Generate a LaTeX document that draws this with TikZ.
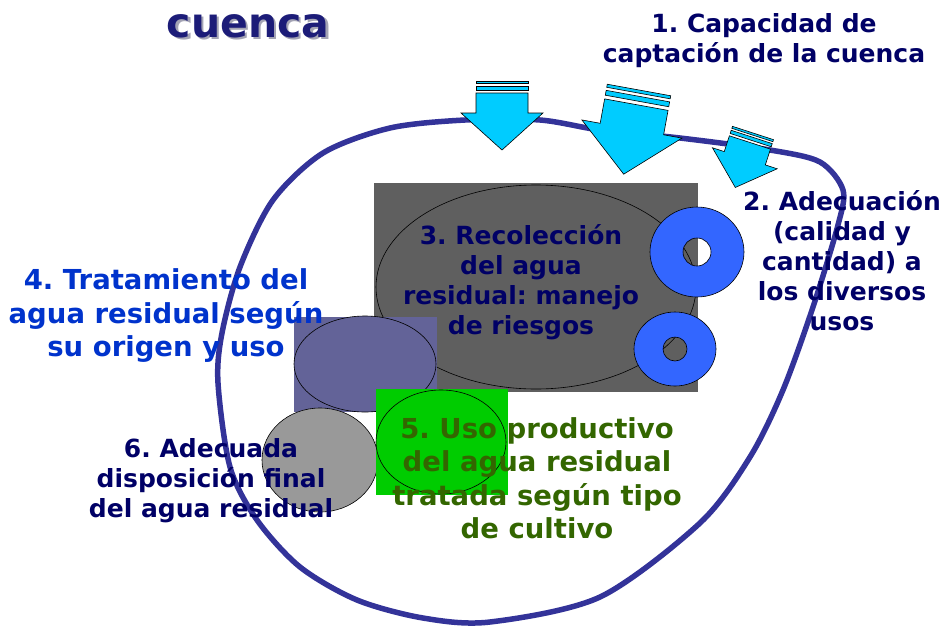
\documentclass[tikz,border=0pt]{standalone}
\usepackage{fontspec}
\setmainfont{DejaVu Sans}
\frenchspacing
\definecolor{navy}{HTML}{000066}
\definecolor{titlenavy}{HTML}{1C1C78}
\definecolor{shadowgray}{HTML}{A4A4B4}
\definecolor{loopblue}{HTML}{333399}
\definecolor{arrowcyan}{HTML}{00CCFF}
\definecolor{ringblue}{HTML}{3366FF}
\definecolor{slate}{HTML}{5F5F5F}
\definecolor{lavender}{HTML}{636398}
\definecolor{midgray}{HTML}{999999}
\definecolor{leaf}{HTML}{00CC00}
\definecolor{olive}{HTML}{336600}
\definecolor{royal}{HTML}{0033CC}
\begin{document}
\begin{tikzpicture}[x=1pt,y=-1pt,line width=.6pt,
  txt/.style={align=center,inner sep=0pt,text=navy,font=\bfseries\fontsize{25}{30}\selectfont},
  bigtxt/.style={txt,font=\bfseries\fontsize{27.5}{33.5}\selectfont},
  titletxt/.style={inner sep=0pt,font=\bfseries\fontsize{41}{48}\selectfont}]
  \useasboundingbox (0,0) rectangle (943,630);
  % basin boundary
  \draw[loopblue,line width=5.5pt] plot[smooth cycle] coordinates {
    (465,120) (540,120) (600,130) (680,138) (770,150) (820,162) (843,190)
    (838,225) (813,307) (783,390) (750,457) (700,523) (600,597) (490,622)
    (423,618) (357,600) (300,567) (257,520) (230,467) (218,383) (222,333)
    (240,267) (273,200) (323,153) (390,128)};
  % (3) collection block
  \fill[slate] (374,183) rectangle (698,392);
  \draw[fill=slate] (536,287) ellipse (160pt and 102pt);
  % (4) treatment block
  \fill[lavender] (294,317) rectangle (437,412);
  \draw[fill=lavender] (365,364) ellipse (71pt and 48pt);
  % (6) disposal
  \draw[fill=midgray] (320,460) ellipse (58pt and 52pt);
  % (5) reuse block
  \fill[leaf] (376,389) rectangle (508,495);
  \draw[fill=leaf] (441,442) ellipse (65pt and 52pt);
  % (2) rings
  \foreach \cx/\cy/\rx/\ry/\rh in {697/252/47/45/14, 675/349/41/37/12} {
    \draw[fill=ringblue,even odd rule] (\cx,\cy) ellipse (\rx pt and \ry pt)
      (\cx,\cy) circle (\rh pt);
  }
  % (1) inflow arrows
  \foreach \ax/\ay/\ang/\sc in {502/81/0/1, 639/90/-10.3/1.24, 753/133/-18/.83} {
    \begin{scope}[shift={(\ax,\ay)},rotate=\ang,scale=\sc]
      \draw[fill=arrowcyan] (-26,0) rectangle (26,2.5);
      \draw[fill=arrowcyan] (-26,5) rectangle (26,9);
      \draw[fill=arrowcyan] (-26,12) -- (-26,32) -- (-41,32) -- (0,69)
        -- (41,32) -- (26,32) -- (26,12) -- cycle;
    \end{scope}
  }
  % labels
  \node[titletxt,text=shadowgray] (titleshadow) at (250.5,28) {cuenca};
  \node[titletxt,text=titlenavy] (title) at (248,26) {cuenca};
  \node[txt] (capt) at (764,41) {1. Capacidad de\\captación de la cuenca};
  \node[txt] (adec) at (842,261) {2. Adecuación\\(calidad y\\cantidad) a\\los diversos\\usos};
  \node[txt] (recol) at (521,282.5) {3. Recolección\\del agua\\residual: manejo\\de riesgos};
  \node[bigtxt,text=royal] (trat) at (166,316) {4. Tratamiento del\\agua residual según\\su origen y uso};
  \node[bigtxt,text=olive] (uso) at (537,478) {5. Uso productivo\\del agua residual\\tratada según tipo\\de cultivo};
  \node[txt] (disp) at (211,481) {6. Adecuada\\disposición final\\del agua residual};
\end{tikzpicture}
\end{document}
